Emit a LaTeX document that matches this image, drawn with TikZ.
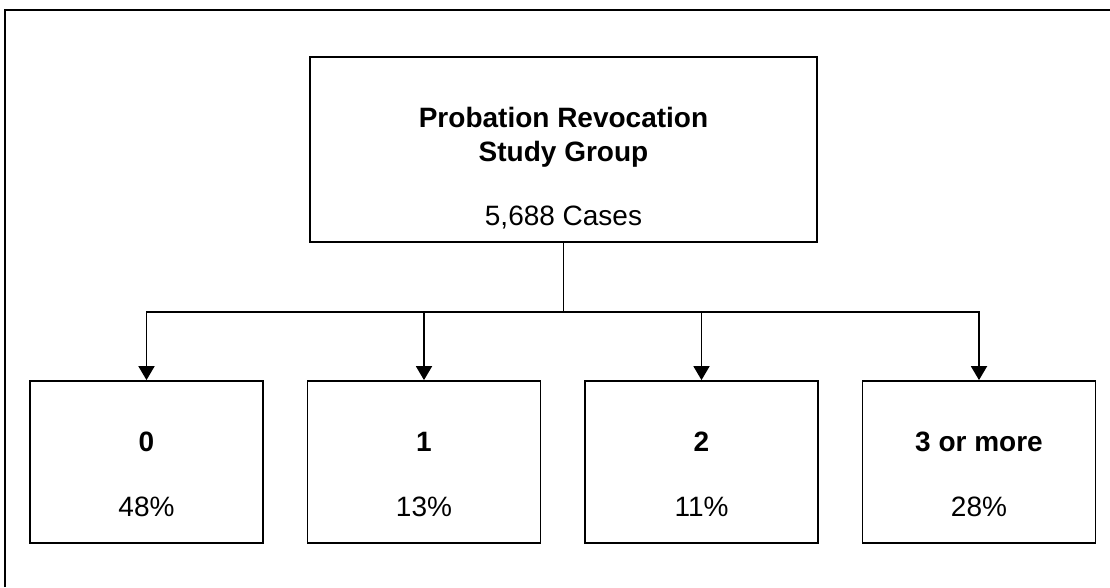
\documentclass[tikz,border=0pt]{standalone}
\usepackage{fontspec}
\setmainfont{Liberation Sans}
\usetikzlibrary{arrows.meta}
\begin{document}
\begin{tikzpicture}[x=1pt,y=-1pt,
  boxstyle/.style={draw,line width=1.8pt,inner sep=0pt},
  lbl/.style={anchor=base,inner sep=0pt,font=\fontsize{28}{32}\selectfont},
  blbl/.style={lbl,font=\fontsize{28}{32}\selectfont\bfseries},
  arr/.style={line width=1.8pt,-{Triangle[width=16pt,length=14pt]}}]
\useasboundingbox (0,0) rectangle (1110,587);
\draw[line width=2pt] (5,587) -- (5,9.5) -- (1110,9.5);
\node[boxstyle,minimum width=507pt,minimum height=185pt] (top) at (563.5,149.5) {};
\node[blbl] (t1) at (563.5,127) {Probation Revocation};
\node[blbl] (t2) at (563.5,161) {Study Group};
\node[lbl] (t3) at (563.5,225) {5,688 Cases};
\coordinate (hub) at (563.5,312);
\foreach \i/\x/\a/\b in {0/146.5/0/48\%,1/424/1/13\%,2/701.5/2/11\%,3/979/3 or more/28\%}{
  \node[boxstyle,minimum width=233pt,minimum height=162pt] (b\i) at (\x,462) {};
  \node[blbl] (h\i) at (\x,451) {\a};
  \node[lbl] (p\i) at (\x,516) {\b};
  \draw[arr] (top.south) -- (hub) -| (b\i.north);
}
\end{tikzpicture}
\end{document}
